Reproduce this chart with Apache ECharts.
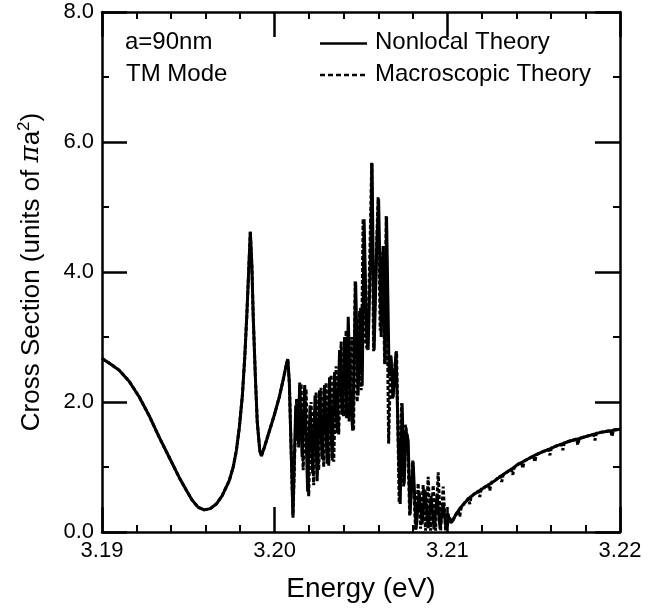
<!DOCTYPE html>
<html>
<head>
<meta charset="utf-8">
<script src="https://cdn.jsdelivr.net/npm/echarts@6/dist/echarts.min.js"></script>
<style>html,body{margin:0;padding:0;background:#fff}#c{width:665px;height:612px}</style>
</head>
<body>
<div id="c"></div>
<script>
// ---- data ----
// smooth part shared by both theories (3.190 - 3.201 eV)
var leftEnergy = [
 3.19000,3.19041,3.19099,3.19157,3.19215,3.19273,3.19331,3.19389,3.19447,3.19487,
 3.19522,3.19557,3.19592,3.19627,3.19662,3.19696,3.19737,3.19760,3.19778,3.19795,
 3.19813,3.19827,3.19839,3.19850,3.19859,3.19868,3.19876,3.19888,3.19899,3.19914,
 3.19923,3.19940,3.19969,3.19998,3.20027,3.20050,3.20068,3.20076,3.20085,3.20094
];
var leftValues = [
 2.67,2.60,2.49,2.32,2.08,1.79,1.46,1.15,0.84,0.65,
 0.49,0.38,0.34,0.36,0.43,0.56,0.79,1.00,1.25,1.60,
 2.10,2.70,3.35,4.05,4.62,4.10,3.30,2.40,1.70,1.25,
 1.17,1.30,1.55,1.80,2.08,2.35,2.58,2.66,2.30,1.40
];
// oscillating part, nonlocal theory
var nonlocalDenseEnergy = [
 3.20106,3.20122,3.20136,3.20145,3.20159,3.20174,3.20191,3.20205,3.20220,3.20234,
 3.20246,3.20260,3.20275,3.20289,3.20304,3.20318,3.20333,3.20347,3.20362,3.20376,
 3.20391,3.20405,3.20417,3.20426,3.20440,3.20452,3.20469,3.20483,3.20498,3.20507,
 3.20518,3.20533,3.20541,3.20556,3.20564,3.20576,3.20591,3.20602,3.20617,3.20628,
 3.20640,3.20648,3.20663,3.20674,3.20686,3.20703,3.20718,3.20727,3.20738,3.20750,
 3.20761,3.20773,3.20784,3.20802,3.20819,3.20837,3.20854,3.20871,3.20889,3.20906,
 3.20923,3.20941,3.20958,3.20976,3.20993,3.21013,3.21025
];
var nonlocalDenseValues = [
 0.26,1.95,1.40,2.30,1.15,2.26,0.62,1.95,0.90,2.10,
 0.78,2.18,1.12,2.26,1.05,2.38,1.10,2.46,1.52,2.80,
 1.80,3.00,1.75,3.31,2.00,1.56,3.85,2.10,3.45,2.25,
 4.81,3.00,2.80,4.30,5.67,2.80,4.40,5.12,3.00,4.40,
 2.60,4.85,2.40,2.70,2.07,2.77,1.20,0.43,1.98,0.74,
 1.55,1.41,0.28,1.08,0.05,0.62,0.12,0.65,0.06,0.55,
 0.04,0.58,0.05,0.45,0.04,0.22,0.15
];
// oscillating part, macroscopic theory
var macroDenseEnergy = [
 3.20106,3.20116,3.20127,3.20139,3.20153,3.20165,3.20182,3.20197,3.20211,3.20226,
 3.20240,3.20255,3.20269,3.20284,3.20298,3.20313,3.20327,3.20342,3.20356,3.20371,
 3.20385,3.20399,3.20414,3.20431,3.20446,3.20457,3.20466,3.20478,3.20492,3.20501,
 3.20512,3.20527,3.20538,3.20553,3.20562,3.20573,3.20588,3.20599,3.20611,3.20625,
 3.20637,3.20646,3.20660,3.20672,3.20683,3.20698,3.20706,3.20721,3.20735,3.20747,
 3.20758,3.20770,3.20782,3.20799,3.20816,3.20831,3.20845,3.20860,3.20874,3.20889,
 3.20903,3.20918,3.20932,3.20947,3.20961,3.20976,3.20990,3.21002,3.21013,3.21025
];
var macroDenseValues = [
 0.22,1.20,2.05,1.30,2.28,0.95,2.20,0.55,2.00,0.72,
 2.15,0.95,2.22,1.00,2.30,1.02,2.42,1.08,2.55,1.50,
 2.93,1.78,3.10,1.70,3.00,1.56,3.86,2.00,3.40,2.18,
 4.82,2.90,2.80,4.50,5.68,2.78,4.20,5.15,3.10,4.30,
 2.58,4.86,1.36,2.72,2.05,2.60,2.78,0.45,1.98,0.70,
 1.65,1.42,0.24,1.10,0.02,0.75,0.05,0.72,0.02,0.85,
 0.02,0.72,0.02,0.92,0.02,0.70,0.02,0.30,0.18,0.14
];
// smooth rising part (3.2105 - 3.22 eV), nonlocal theory
var rightEnergy = [
 3.21048,3.21072,3.21101,3.21130,3.21159,3.21188,3.21217,3.21246,3.21275,3.21315,
 3.21350,3.21379,3.21408,3.21437,3.21472,3.21507,3.21547,3.21594,3.21629,3.21669,
 3.21710,3.21756,3.21803,3.21855,3.21901,3.21954,3.22000
];
var rightNonlocal = [
 0.26,0.36,0.45,0.53,0.59,0.64,0.69,0.74,0.79,0.87,
 0.93,0.98,1.04,1.08,1.13,1.18,1.23,1.28,1.32,1.36,
 1.40,1.43,1.47,1.51,1.54,1.56,1.58
];
// rising part, macroscopic theory (with its small periodic notches)
var rightMacroEnergy = [
 3.21048,3.21064,3.21072,3.21080,3.21101,3.21122,3.21130,3.21138,3.21159,3.21180,
 3.21188,3.21196,3.21217,3.21238,3.21246,3.21254,3.21275,3.21307,3.21315,3.21323,
 3.21350,3.21371,3.21379,3.21387,3.21408,3.21429,3.21437,3.21445,3.21472,3.21499,
 3.21507,3.21515,3.21547,3.21586,3.21594,3.21602,3.21629,3.21661,3.21669,3.21677,
 3.21710,3.21748,3.21756,3.21764,3.21803,3.21847,3.21855,3.21863,3.21901,3.21946,
 3.21954,3.21962,3.22000
];
var rightMacro = [
 0.26,0.33,0.24,0.37,0.45,0.52,0.43,0.55,0.59,0.63,
 0.54,0.66,0.69,0.73,0.64,0.76,0.79,0.86,0.77,0.88,
 0.93,0.97,0.88,0.99,1.04,1.07,0.98,1.09,1.13,1.17,
 1.08,1.19,1.23,1.27,1.18,1.29,1.32,1.35,1.26,1.37,
 1.40,1.43,1.34,1.44,1.47,1.50,1.41,1.52,1.54,1.56,
 1.47,1.57,1.58
];
var xTicks = [3.19, 3.20, 3.21, 3.22];
var yTicks = [0, 2, 4, 6, 8];
var seriesNames = ['Nonlocal Theory', 'Macroscopic Theory'];
var annotations = ['a=90nm', 'TM Mode'];

function pairs(xs, ys) { return xs.map(function (x, i) { return [x, ys[i]]; }); }
var nonlocalData = pairs(leftEnergy, leftValues)
  .concat(pairs(nonlocalDenseEnergy, nonlocalDenseValues))
  .concat(pairs(rightEnergy, rightNonlocal));
var macroData = pairs(leftEnergy, leftValues)
  .concat(pairs(macroDenseEnergy, macroDenseValues))
  .concat(pairs(rightMacroEnergy, rightMacro));

var FONT = 'Liberation Sans, Arial, Helvetica, sans-serif';
function makeAxis(kind, pos, showLabel) {
  var isX = kind === 'x';
  return {
    type: 'value', position: pos,
    min: isX ? xTicks[0] : yTicks[0],
    max: isX ? xTicks[xTicks.length - 1] : yTicks[yTicks.length - 1],
    interval: isX ? 0.01 : 2,
    axisLine: { show: true, onZero: false, lineStyle: { color: 'black', width: 2.5 } },
    axisTick: { show: true, inside: true, length: 25, lineStyle: { color: 'black', width: 2.5 } },
    minorTick: { show: true, splitNumber: isX ? 5 : 2, length: 7, lineStyle: { color: 'black', width: 2 } },
    splitLine: { show: false },
    axisLabel: { show: showLabel, color: '#000', fontSize: 22, fontFamily: FONT,
      formatter: function (v) { return isX ? v.toFixed(2) : v.toFixed(1); } }
  };
}
var xBottom = makeAxis('x', 'bottom', true);
xBottom.name = 'Energy (eV)';
xBottom.nameLocation = 'middle';
xBottom.nameGap = 43;
xBottom.nameTextStyle = { color: '#000', fontSize: 28, fontFamily: FONT };
var yLeft = makeAxis('y', 'left', true);
yLeft.name = 'Cross Section (units of {i|π}a{s|2})';
yLeft.nameLocation = 'middle';
yLeft.nameGap = 55;
yLeft.nameTextStyle = { color: '#000', fontSize: 26, fontFamily: FONT,
  rich: { i: { fontSize: 26, fontStyle: 'italic', fontFamily: 'DejaVu Serif, serif', color: '#000' },
          s: { fontSize: 17, verticalAlign: 'top', padding: [0, 0, 14, 0], fontFamily: FONT, color: '#000' } } };

var chart = echarts.init(document.getElementById('c'));
chart.setOption({
  animation: false,
  grid: { left: 102, right: 45, top: 12, bottom: 80 },
  xAxis: [ xBottom, makeAxis('x', 'top', false) ],
  yAxis: [ yLeft, makeAxis('y', 'right', false) ],
  graphic: [
    { type: 'text', left: 125, top: 30, style: { text: annotations[0], font: '24px ' + FONT, fill: '#000' } },
    { type: 'text', left: 126, top: 62, style: { text: annotations[1], font: '24px ' + FONT, fill: '#000' } },
    { type: 'line', shape: { x1: 320, y1: 43.5, x2: 367, y2: 43.5 }, style: { stroke: '#000', lineWidth: 2.5 } },
    { type: 'line', shape: { x1: 320, y1: 75, x2: 367, y2: 75 }, style: { stroke: '#000', lineWidth: 2.5, lineDash: [5, 3] } },
    { type: 'text', left: 375, top: 30, style: { text: seriesNames[0], font: '24px ' + FONT, fill: '#000' } },
    { type: 'text', left: 375, top: 62, style: { text: seriesNames[1], font: '24px ' + FONT, fill: '#000' } }
  ],
  series: [
    { name: seriesNames[0], type: 'line', showSymbol: false, symbol: 'none',
      lineStyle: { color: '#000', width: 3, type: 'solid' }, data: nonlocalData },
    { name: seriesNames[1], type: 'line', showSymbol: false, symbol: 'none',
      lineStyle: { color: '#000', width: 3, type: [4, 2] }, data: macroData }
  ]
});
</script>
</body>
</html>
